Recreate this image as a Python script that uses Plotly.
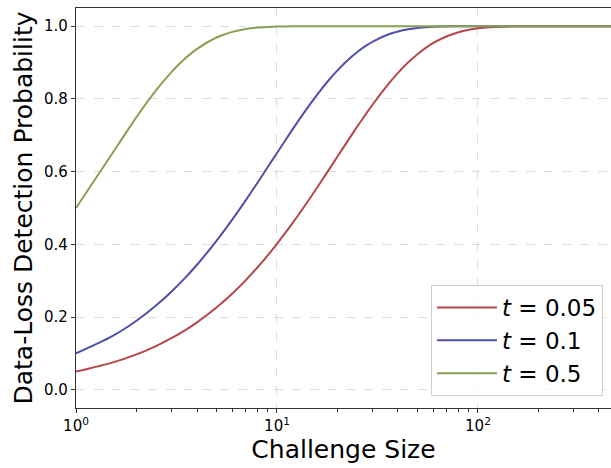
import plotly.graph_objects as go

challenge_size = [1, 1.5, 2, 2.5, 3, 3.5, 4, 5, 6, 7, 8, 9, 10, 12, 14, 16, 18, 20,
                  22, 25, 28, 30, 35, 40, 45, 50, 55, 60, 70, 80, 90, 100, 120, 150, 200, 300, 500]
p_t005 = [0.05, 0.0741, 0.0975, 0.1204, 0.1426, 0.1641, 0.1855, 0.2262, 0.2649, 0.3017,
          0.3366, 0.3698, 0.4013, 0.4596, 0.5123, 0.5599, 0.6028, 0.6415,
          0.6764, 0.7226, 0.7622, 0.7854, 0.8339, 0.8715, 0.9006, 0.9231, 0.9405, 0.9539,
          0.9724, 0.9835, 0.9901, 0.9941, 0.9979, 0.9995, 1.0, 1.0, 1.0]
p_t01 = [0.1, 0.1462, 0.19, 0.2316, 0.271, 0.3085, 0.3439, 0.4095, 0.4686, 0.5217,
         0.5695, 0.6126, 0.6513, 0.7176, 0.7712, 0.8147, 0.8499, 0.8784,
         0.9015, 0.9282, 0.9477, 0.9576, 0.975, 0.9852, 0.9913, 0.9948, 0.9970, 0.9982,
         0.9994, 0.9998, 0.9999, 1.0, 1.0, 1.0, 1.0, 1.0, 1.0]
p_t05 = [0.5, 0.6464, 0.75, 0.8232, 0.875, 0.9116, 0.9375, 0.9688, 0.9844, 0.9922,
         0.9961, 0.998, 0.999, 0.9998, 1.0, 1.0, 1.0, 1.0,
         1.0, 1.0, 1.0, 1.0, 1.0, 1.0, 1.0, 1.0, 1.0, 1.0,
         1.0, 1.0, 1.0, 1.0, 1.0, 1.0, 1.0, 1.0, 1.0]

series_names = ["<i>t</i> = 0.05", "<i>t</i> = 0.1", "<i>t</i> = 0.5"]
series_values = [p_t005, p_t01, p_t05]
colors = ["#B5474B", "#5050A8", "#88A052"]

x_tickvals = [1, 10, 100]
x_ticktext = ["10<sup>0</sup>", "10<sup>1</sup>", "10<sup>2</sup>"]
y_tickvals = [0.0, 0.2, 0.4, 0.6, 0.8, 1.0]

fig = go.Figure()
for name, vals, c in zip(series_names, series_values, colors):
    fig.add_trace(go.Scatter(x=challenge_size, y=vals, mode="lines", name=name,
                             line=dict(color=c, width=2, shape="spline", smoothing=0.6)))

minor_vals = [2, 3, 4, 5, 6, 7, 8, 9, 20, 30, 40, 50, 60, 70, 80, 90, 200, 300, 400, 500]

fig.update_layout(
    width=611, height=468,
    margin=dict(l=76, r=0, t=8, b=60),
    paper_bgcolor="white", plot_bgcolor="white",
    font=dict(family="DejaVu Sans", color="black"),
    showlegend=True,
    legend=dict(x=0.985, y=0.03, xanchor="right", yanchor="bottom",
                bgcolor="rgba(255,255,255,0.8)", bordercolor="#d0d0d0", borderwidth=1,
                font=dict(size=23, family="DejaVu Sans"), itemwidth=60,
                tracegroupgap=0),
    xaxis=dict(type="log", range=[0, 2.662],
               tickvals=x_tickvals, ticktext=x_ticktext,
               ticks="outside", ticklen=4, tickwidth=1, tickcolor="#333",
               tickfont=dict(size=15),
               showline=True, linecolor="#333", linewidth=1.2, mirror=True,
               showgrid=True, gridcolor="#dcdcdc", griddash="dash", gridwidth=1,
               zeroline=False,
               minor=dict(tickvals=minor_vals, ticks="outside", ticklen=2.5,
                          tickcolor="#333", showgrid=False),
               title=dict(text="Challenge Size", font=dict(size=25), standoff=4)),
    yaxis=dict(range=[-0.05, 1.05], tickvals=y_tickvals, tickformat=".1f",
               ticks="outside", ticklen=4, tickwidth=1, tickcolor="#333",
               tickfont=dict(size=15),
               showline=True, linecolor="#333", linewidth=1.2,
               showgrid=True, gridcolor="#dcdcdc", griddash="dash", gridwidth=1,
               zeroline=False,
               title=dict(text="Data-Loss Detection Probability", font=dict(size=25), standoff=4)),
)

fig.write_html("out.html")
